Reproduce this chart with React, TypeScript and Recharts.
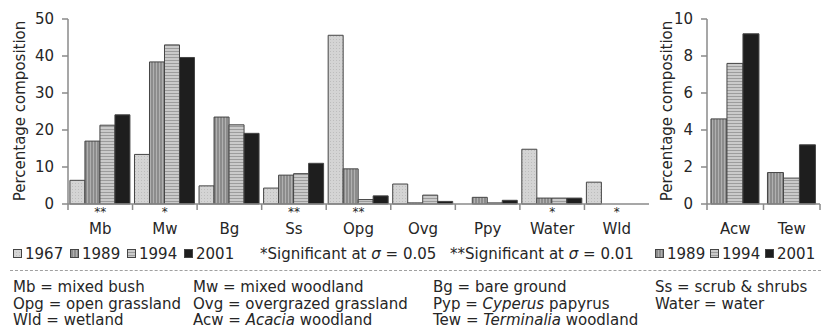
import { BarChart, Bar, XAxis, YAxis } from 'recharts';

// land cover classes, main panel
const CATEGORIES = ['Mb', 'Mw', 'Bg', 'Ss', 'Opg', 'Ovg', 'Ppy', 'Water', 'Wld'];
const SIG = ['**', '*', '', '**', '**', '', '', '*', '*'];
const Y1967 = [6.4, 13.4, 4.9, 4.3, 45.6, 5.4, 0, 14.8, 5.9];
const Y1989 = [17, 38.4, 23.5, 7.8, 9.5, 0.3, 1.8, 1.6, 0];
const Y1994 = [21.3, 43, 21.4, 8.2, 1.2, 2.4, 0.3, 1.6, 0];
const Y2001 = [24.1, 39.6, 19.1, 11, 2.2, 0.7, 1, 1.6, 0];
const LEFT_TICKS = [0, 10, 20, 30, 40, 50];

// woodland classes, small panel (no 1967 data)
const WOOD_CATEGORIES = ['Acw', 'Tew'];
const W1989 = [4.6, 1.7];
const W1994 = [7.6, 1.4];
const W2001 = [9.2, 3.2];
const RIGHT_TICKS = [0, 2, 4, 6, 8, 10];

const mainData = CATEGORIES.map((name, i) => ({
  name, sig: SIG[i], y1967: Y1967[i], y1989: Y1989[i], y1994: Y1994[i], y2001: Y2001[i],
}));
const woodData = WOOD_CATEGORIES.map((name, i) => ({
  name, sig: '', y1989: W1989[i], y1994: W1994[i], y2001: W2001[i],
}));

const FONT = '"DejaVu Sans", Verdana, sans-serif';
const TXT = '#262626';
const AX = '#8a8a8a';
const OUTLINE = '#444';

function Patterns() {
  return (
    <defs>
      <pattern id="p1967" width="3" height="3" patternUnits="userSpaceOnUse">
        <rect width="3" height="3" fill="#d4d4d4" />
        <rect width="1" height="1" fill="#bdbdbd" />
      </pattern>
      <pattern id="p1989" width="3" height="3" patternUnits="userSpaceOnUse">
        <rect width="3" height="3" fill="#8c8c8c" />
        <rect width="1" height="3" fill="#b0b0b0" />
      </pattern>
      <pattern id="p1994" width="3" height="3" patternUnits="userSpaceOnUse">
        <rect width="3" height="3" fill="#cacaca" />
        <rect width="3" height="1" fill="#9c9c9c" />
      </pattern>
    </defs>
  );
}

function makeTick(data: { name: string; sig: string }[], band: number, lastEdge: boolean) {
  return (props: any) => {
    const { x, y, payload } = props;
    const half = payload && payload.offset ? payload.offset : band / 2;
    const idx = data.findIndex(d => d.name === payload.value);
    const sig = idx >= 0 ? data[idx].sig : '';
    return (
      <g>
        <line x1={x - half} x2={x - half} y1={y} y2={y + 6} stroke={AX} strokeWidth={1.5} />
        {lastEdge && idx === data.length - 1 && (
          <line x1={x + half} x2={x + half} y1={y} y2={y + 6} stroke={AX} strokeWidth={1.5} />
        )}
        {sig && (
          <text x={x} y={y + 12} textAnchor="middle" fontSize={12} fill={TXT} fontFamily={FONT}>{sig}</text>
        )}
        <text x={x} y={y + 30} textAnchor="middle" fontSize={15} fill={TXT} fontFamily={FONT}>{payload.value}</text>
      </g>
    );
  };
}

function Swatch({ fill }: { fill: string }) {
  return (
    <svg width={9} height={9} style={{ marginRight: 3, verticalAlign: 'middle', position: 'relative', top: -1 }}>
      <Patterns />
      <rect x={0.5} y={0.5} width={8} height={8} fill={fill} stroke={OUTLINE} strokeWidth={1} />
    </svg>
  );
}

const YLabel = ({ left }: { left: number }) => (
  <div style={{
    position: 'absolute', left: left - 110, top: 111 - 10, width: 220, height: 20,
    transform: 'rotate(-90deg)', textAlign: 'center', fontSize: 15, color: TXT,
    fontFamily: FONT, lineHeight: '20px', whiteSpace: 'nowrap',
  }}>Percentage composition</div>
);

const tickStyle = { fontSize: 15, fill: TXT, fontFamily: FONT };

const ABBREV = [
  ['Mb = mixed bush', 'Mw = mixed woodland', 'Bg = bare ground', 'Ss = scrub & shrubs'],
  ['Opg = open grassland', 'Ovg = overgrazed grassland', 'Pyp = Cyperus papyrus', 'Water = water'],
  ['Wld =  wetland', 'Acw = Acacia woodland', 'Tew = Terminalia woodland', ''],
];
const ABBREV_LEFT = [13, 193, 433, 655];

export default function App() {
  const barProps = { isAnimationActive: false, stroke: OUTLINE, strokeWidth: 1 };
  return (
    <div style={{ position: 'absolute', left: 0, top: 0, width: 821, height: 330, background: '#fff', overflow: 'hidden', fontFamily: FONT }}>
      <div style={{ position: 'absolute', left: 0, top: 0 }}>
        <BarChart width={652} height={240} data={mainData} margin={{ top: 19, right: 3, left: 0, bottom: 0 }}
          barCategoryGap="3%" barGap={0}>
          <Patterns />
          <XAxis dataKey="name" height={36} tickSize={0} tickMargin={0} tickLine={false} interval={0}
            axisLine={{ stroke: AX, strokeWidth: 1.5 }} tick={makeTick(mainData, 581 / 9, false)} />
          <XAxis xAxisId="top" dataKey="name" orientation="top" height={0} tick={false} tickLine={false}
            axisLine={{ stroke: AX, strokeWidth: 1.5 }} />
          <YAxis width={68} domain={[0, 50]} ticks={LEFT_TICKS} tick={tickStyle} tickSize={6} tickMargin={8}
            axisLine={{ stroke: AX, strokeWidth: 1.5 }} tickLine={{ stroke: AX, strokeWidth: 1.5 }} />
          <YAxis yAxisId="r" orientation="right" width={0} tick={false} tickLine={false}
            axisLine={{ stroke: AX, strokeWidth: 1.5 }} />
          <Bar dataKey="y1967" fill="url(#p1967)" {...barProps} />
          <Bar dataKey="y1989" fill="url(#p1989)" {...barProps} />
          <Bar dataKey="y1994" fill="url(#p1994)" {...barProps} />
          <Bar dataKey="y2001" fill="#1e1e1e" {...barProps} />
        </BarChart>
      </div>
      <YLabel left={20} />

      <div style={{ position: 'absolute', left: 640, top: 0 }}>
        <BarChart width={181} height={240} data={woodData} margin={{ top: 19, right: 1, left: 0, bottom: 0 }}
          barCategoryGap="7%" barGap={0}>
          <Patterns />
          <XAxis dataKey="name" height={36} tickSize={0} tickMargin={0} tickLine={false} interval={0}
            axisLine={{ stroke: AX, strokeWidth: 1.5 }} tick={makeTick(woodData, 113 / 2, true)} />
          <XAxis xAxisId="top" dataKey="name" orientation="top" height={0} tick={false} tickLine={false}
            axisLine={{ stroke: AX, strokeWidth: 1.5 }} />
          <YAxis width={67} domain={[0, 10]} ticks={RIGHT_TICKS} tick={tickStyle} tickSize={6} tickMargin={8}
            axisLine={{ stroke: AX, strokeWidth: 1.5 }} tickLine={{ stroke: AX, strokeWidth: 1.5 }} />
          <YAxis yAxisId="r" orientation="right" width={0} tick={false} tickLine={false}
            axisLine={{ stroke: AX, strokeWidth: 1.5 }} />
          <Bar dataKey="y1989" fill="url(#p1989)" {...barProps} />
          <Bar dataKey="y1994" fill="url(#p1994)" {...barProps} />
          <Bar dataKey="y2001" fill="#1e1e1e" {...barProps} />
        </BarChart>
      </div>
      <YLabel left={667} />

      {/* legend row */}
      <div style={{ position: 'absolute', top: 244, left: 0, width: 821, height: 20, fontSize: 15, color: TXT, lineHeight: '20px', whiteSpace: 'nowrap' }}>
        <span style={{ position: 'absolute', left: 13 }}><Swatch fill="url(#p1967)" />1967</span>
        <span style={{ position: 'absolute', left: 70 }}><Swatch fill="url(#p1989)" />1989</span>
        <span style={{ position: 'absolute', left: 127 }}><Swatch fill="url(#p1994)" />1994</span>
        <span style={{ position: 'absolute', left: 184 }}><Swatch fill="#1e1e1e" />2001</span>
        <span style={{ position: 'absolute', left: 260 }}>*Significant at <i>σ</i> = 0.05</span>
        <span style={{ position: 'absolute', left: 450 }}>**Significant at <i>σ</i> = 0.01</span>
        <span style={{ position: 'absolute', left: 655 }}><Swatch fill="url(#p1989)" />1989</span>
        <span style={{ position: 'absolute', left: 710 }}><Swatch fill="url(#p1994)" />1994</span>
        <span style={{ position: 'absolute', left: 765 }}><Swatch fill="#1e1e1e" />2001</span>
      </div>
      <div style={{ position: 'absolute', top: 270, left: 10, width: 811, borderTop: '1.5px dashed #a0a0a0' }} />

      {/* abbreviations */}
      <div style={{ position: 'absolute', top: 279, left: 0, width: 821, fontSize: 15, color: TXT, lineHeight: '16.5px', whiteSpace: 'nowrap' }}>
        {ABBREV.map((row, r) => (
          <div key={r} style={{ position: 'relative', height: 16.5 }}>
            {row.map((t, c) => {
              const parts = t.split(' = ');
              const italic = parts[1] && /Acacia|Terminalia|Cyperus/.test(parts[1]);
              return (
                <span key={c} style={{ position: 'absolute', left: ABBREV_LEFT[c] }}>
                  {parts[0]}{parts.length > 1 ? ' = ' : ''}
                  {italic ? (
                    <>
                      <i>{parts[1].split(' ')[0]}</i>{' ' + parts[1].split(' ').slice(1).join(' ')}
                    </>
                  ) : parts[1]}
                </span>
              );
            })}
          </div>
        ))}
      </div>
    </div>
  );
}
